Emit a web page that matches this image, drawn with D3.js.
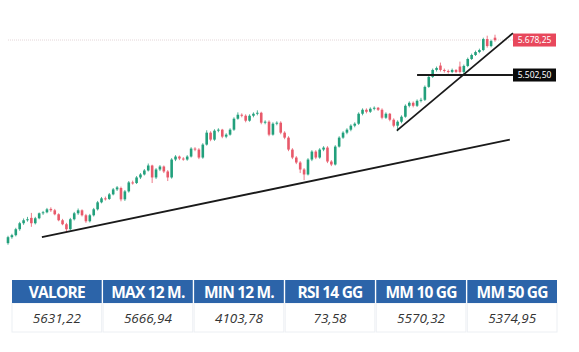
<!DOCTYPE html>
<html>
<head>
<meta charset="utf-8">
<script src="https://cdn.jsdelivr.net/npm/d3@7"></script>
<style>
  body { margin: 0; background: #fff; }
  svg { display: block; }
</style>
</head>
<body>
<svg id="chart" width="579" height="352"></svg>
<script>
// daily candles [open, high, low, close]
const candles = [
  [4658,4695,4650,4688],[4688,4705,4680,4698],[4698,4735,4692,4728],[4728,4765,4720,4758],
  [4758,4782,4750,4773],[4773,4790,4766,4778],[4785,4810,4740,4758],[4758,4790,4752,4783],
  [4783,4812,4778,4808],[4808,4820,4800,4813],[4813,4835,4808,4828],[4830,4838,4815,4823],
  [4823,4830,4798,4803],[4803,4808,4768,4773],[4773,4780,4748,4753],[4753,4760,4715,4728],
  [4728,4785,4722,4778],[4778,4815,4772,4808],[4808,4832,4800,4823],[4823,4828,4792,4798],
  [4798,4805,4760,4768],[4768,4805,4762,4798],[4798,4835,4792,4828],[4828,4870,4822,4863],
  [4863,4890,4858,4883],[4883,4892,4872,4880],[4880,4910,4875,4903],[4903,4935,4898,4928],
  [4928,4945,4920,4938],[4935,4942,4868,4878],[4878,4925,4870,4918],[4918,4970,4912,4963],
  [4963,4972,4952,4960],[4960,4995,4955,4988],[4988,5010,4980,5003],[5003,5030,4998,5023],
  [5023,5058,5018,5048],[5048,5052,4960,4988],[4988,5035,4980,5028],[5028,5050,5020,5043],
  [5043,5048,5010,5018],[5018,5025,4970,4988],[4988,5085,4982,5078],[5078,5100,5070,5093],
  [5093,5098,5075,5083],[5083,5090,5072,5078],[5078,5100,5072,5093],[5093,5140,5088,5133],
  [5133,5140,5120,5128],[5128,5135,5080,5088],[5088,5160,5082,5153],[5153,5225,5148,5213],
  [5213,5220,5170,5178],[5178,5230,5172,5223],[5223,5235,5215,5228],[5228,5232,5185,5193],
  [5193,5210,5185,5203],[5203,5235,5198,5228],[5228,5290,5222,5283],[5283,5315,5278,5303],
  [5303,5310,5290,5298],[5298,5305,5265,5273],[5273,5305,5268,5298],[5298,5315,5290,5308],
  [5308,5325,5300,5313],[5313,5318,5255,5263],[5263,5275,5255,5268],[5268,5275,5195,5203],
  [5203,5265,5198,5258],[5258,5270,5250,5263],[5263,5270,5205,5213],[5213,5220,5180,5188],
  [5188,5195,5120,5128],[5128,5135,5080,5088],[5088,5095,5055,5063],[5063,5070,5010,5028],
  [5028,5035,4975,5003],[5003,5085,4998,5078],[5078,5125,5070,5118],[5118,5125,5080,5088],
  [5088,5135,5082,5128],[5128,5145,5120,5138],[5138,5145,5060,5068],[5068,5075,5045,5053],
  [5053,5150,5048,5143],[5143,5195,5138,5188],[5188,5220,5182,5213],[5213,5235,5205,5228],
  [5228,5255,5220,5248],[5248,5265,5240,5258],[5258,5315,5252,5308],[5308,5335,5300,5328],
  [5328,5335,5310,5318],[5318,5340,5312,5333],[5333,5345,5325,5338],[5338,5342,5322,5328],
  [5328,5335,5280,5288],[5288,5315,5282,5308],[5308,5312,5270,5278],[5278,5285,5240,5248],
  [5248,5275,5220,5268],[5268,5300,5260,5293],[5293,5355,5288,5348],[5348,5370,5340,5363],
  [5363,5370,5340,5348],[5348,5380,5342,5373],[5373,5388,5365,5378],[5378,5450,5372,5443],
  [5443,5500,5438,5493],[5493,5535,5488,5528],[5528,5545,5520,5538],[5550,5565,5520,5528],
  [5528,5535,5515,5523],[5523,5530,5510,5518],[5518,5535,5512,5528],[5528,5532,5512,5518],
  [5545,5570,5510,5518],[5518,5555,5505,5548],[5548,5590,5542,5583],[5583,5610,5578,5603],
  [5603,5625,5598,5618],[5618,5635,5612,5628],[5628,5690,5622,5683],[5683,5700,5640,5648],
  [5648,5680,5642,5673],[5690,5705,5670,5678]
];

// trend lines drawn on the chart: [index, price] endpoints
const supportLine = [[8.7, 4688], [128.8, 5178]];
const channelLine = [[99.8, 5223], [129.6, 5713]];
const levelLine = [[105, 5502.5], [129.6, 5502.5]];

const lastPrice = 5678.25;
const levelPrice = 5502.50;

const tableHeaders = ["VALORE", "MAX 12 M.", "MIN 12 M.", "RSI 14 GG", "MM 10 GG", "MM 50 GG"];
const tableValues = ["5631,22", "5666,94", "4103,78", "73,58", "5570,32", "5374,95"];

const svg = d3.select("#chart");

let x = d3.scaleLinear()
    .domain([0, candles.length - 1])
    .range([8, 495]);

let y = d3.scaleLinear()
    .domain([4600, 5700])
    .range([254.7, 35.7]);

let fmt = d3.formatLocale({decimal: ",", thousands: ".", grouping: [3], currency: ["", ""]}).format(",.2f");

let chartGroup = svg.append("g");

// last price dotted line
chartGroup.append("line")
    .attr("x1", 8)
    .attr("x2", 513)
    .attr("y1", y(lastPrice))
    .attr("y2", y(lastPrice))
    .style("stroke", "#e4d6d8")
    .style("stroke-width", 1)
    .style("stroke-dasharray", "1,1");

const green = "#22a07c";
const red = "#e8596a";

// wicks
chartGroup.selectAll(".wick")
    .data(candles)
    .enter()
    .append("line")
    .attr("class", "wick")
    .attr("x1", (d, i) => x(i))
    .attr("x2", (d, i) => x(i))
    .attr("y1", d => y(d[1]))
    .attr("y2", d => y(d[2]))
    .style("stroke", d => d[3] >= d[0] ? green : red)
    .style("stroke-width", 0.8);

// bodies
chartGroup.selectAll(".body")
    .data(candles)
    .enter()
    .append("rect")
    .attr("class", "body")
    .attr("x", (d, i) => x(i) - 1.3)
    .attr("y", d => y(Math.max(d[0], d[3])))
    .attr("width", 2.6)
    .attr("height", d => Math.max(1, Math.abs(y(d[0]) - y(d[3]))))
    .style("fill", d => d[3] >= d[0] ? green : red);

// trend lines
[supportLine, channelLine, levelLine].forEach((pts) => {
    chartGroup.append("line")
        .attr("x1", x(pts[0][0]))
        .attr("y1", y(pts[0][1]))
        .attr("x2", x(pts[1][0]))
        .attr("y2", y(pts[1][1]))
        .style("stroke", "#1a1a1a")
        .style("stroke-width", 1.8);
});

// price labels
function priceLabel(price, fill){
    let g = chartGroup.append("g")
        .attr("transform", `translate(513, ${y(price) - 6.5})`);
    g.append("rect")
        .attr("width", 43)
        .attr("height", 13)
        .style("fill", fill);
    g.append("text")
        .attr("x", 21.5)
        .attr("y", 9.5)
        .attr("text-anchor", "middle")
        .style("font-family", "'Noto Sans', sans-serif")
        .style("font-size", "8.5px")
        .style("fill", "#fff")
        .text(fmt(price));
}
priceLabel(lastPrice, "#e8485c");
priceLabel(levelPrice, "#0a0a0a");

// table
let colX = d3.scaleBand()
    .domain(tableHeaders)
    .range([12, 557])
    .paddingInner(0.015);

let tableGroup = svg.append("g");

tableGroup.selectAll(".val-cell")
    .data(tableHeaders)
    .enter()
    .append("rect")
    .attr("class", "val-cell")
    .attr("x", d => colX(d))
    .attr("y", 303)
    .attr("width", colX.bandwidth())
    .attr("height", 29)
    .style("fill", "#fff")
    .style("stroke", "#eceff3")
    .style("stroke-width", 1);

tableGroup.selectAll(".head-cell")
    .data(tableHeaders)
    .enter()
    .append("rect")
    .attr("class", "head-cell")
    .attr("x", d => colX(d))
    .attr("y", 280)
    .attr("width", colX.bandwidth())
    .attr("height", 23)
    .style("fill", "#2c64a9");

tableGroup.selectAll(".head-text")
    .data(tableHeaders)
    .enter()
    .append("text")
    .attr("class", "head-text")
    .attr("x", d => colX(d) + colX.bandwidth() / 2)
    .attr("y", 297.5)
    .attr("text-anchor", "middle")
    .style("font-family", "'Open Sans', sans-serif")
    .style("font-weight", "bold")
    .style("font-size", "15.5px")
    .style("letter-spacing", "-0.8px")
    .style("fill", "#fff")
    .text(d => d);

tableGroup.selectAll(".val-text")
    .data(tableValues)
    .enter()
    .append("text")
    .attr("class", "val-text")
    .attr("x", (d, i) => colX(tableHeaders[i]) + colX.bandwidth() / 2)
    .attr("y", 323)
    .attr("text-anchor", "middle")
    .style("font-family", "'Open Sans', sans-serif")
    .style("font-style", "italic")
    .style("font-size", "13.5px")
    .style("fill", "#333")
    .text(d => d);
</script>
</body>
</html>
